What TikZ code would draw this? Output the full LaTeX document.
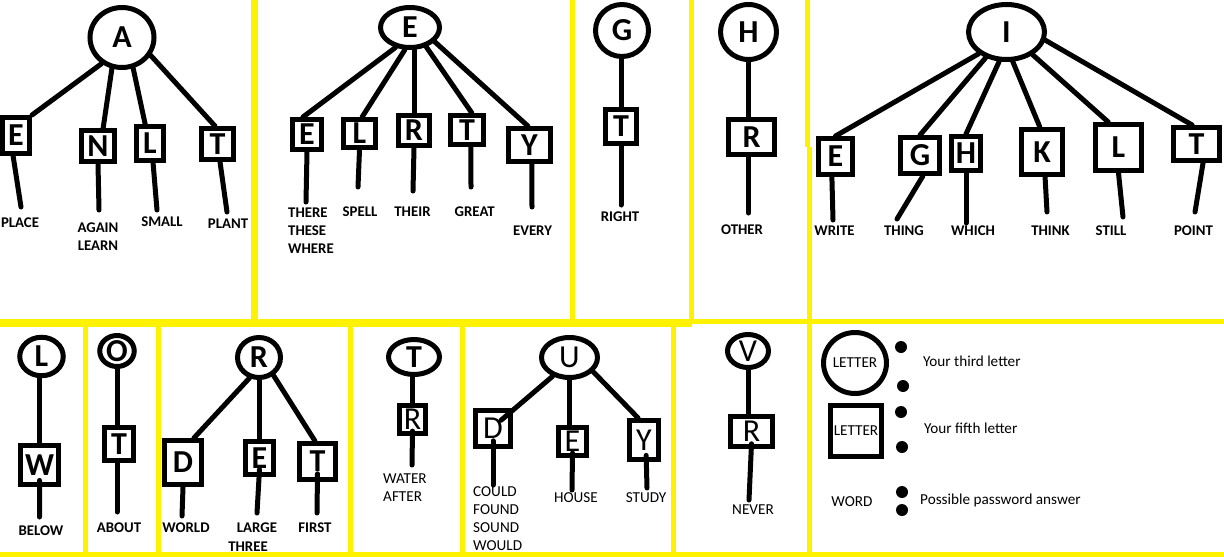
\documentclass[tikz,border=0pt]{standalone}
\usepackage{fontspec}
\setmainfont{Carlito}
\usetikzlibrary{shapes.geometric,calc}
\definecolor{ylw}{HTML}{FFF200}
\newcommand\fntBigB{\fontsize{32}{38}\selectfont\bfseries}
\newcommand\fntBigR{\fontsize{32}{38}\selectfont}
\newcommand\fntLabB{\fontsize{14.8}{18}\selectfont\bfseries}
\newcommand\fntLabR{\fontsize{15.2}{18}\selectfont}
\tikzset{
  sz/.style 2 args={minimum width=#1pt,minimum height=#2pt},
  lt/.style={ellipse,draw,line width=5pt,inner sep=0pt,font=\fntBigB},
  bx/.style={rectangle,draw,line width=5pt,inner sep=0pt,font=\fntBigB},
  conn/.style={line width=5pt,line cap=round},
  lab/.style={inner sep=0pt,font=\fntLabB},
  labr/.style={inner sep=0pt,font=\fntLabR},
  ybar/.style={draw=ylw,line width=5pt},
  dotn/.style={circle,fill,inner sep=0pt,minimum size=12pt}
}
\begin{document}
\begin{tikzpicture}[x=1pt,y=-1pt]
\useasboundingbox (0,0) rectangle (1224,557);
% ---------- yellow frames ----------
\draw[ybar] (253,0) -- (253,321);
\draw[ybar] (255.5,0) -- (255.5,322);
\draw[ybar] (572,0) -- (572,322);
\draw[ybar] (691.5,0) -- (691.5,322);
\draw[ybar] (807,0) -- (807,147);
\draw[ybar] (809,147) -- (809,322);
\draw[ybar] (0,321.5) -- (1224,321.5);
\draw[ybar] (0,324) -- (692,324);
\draw[ybar] (85,322) -- (85,555);
\draw[ybar] (158,322) -- (158,555);
\draw[ybar] (350,322) -- (350,555);
\draw[ybar] (462,322) -- (462,555);
\draw[ybar] (673,322) -- (673,555);
\draw[ybar] (809,322) -- (809,555);
\draw[ybar] (0,554.5) -- (1224,554.5);
% ---------- tree A ----------
\node[lt,sz={64}{60}] (cA) at (122,37.5) {A};
\node[bx,sz={27}{36}] (bAE) at (16,135.5) {E};
\node[bx,sz={33}{31}] (bAN) at (98,146) {N};
\node[bx,sz={27}{34}] (bAL) at (150,143.5) {L};
\node[bx,sz={32}{31}] (bAT) at (217.5,144) {T};
\draw[conn] (cA.232) -- (bAE.north east);
\draw[conn] (cA.252) -- (bAN.74);
\draw[conn] (cA.290) -- (bAL.104);
\draw[conn] (cA.328) -- (bAT.98);
\coordinate (eAE) at (21,207);
\coordinate (eAN) at (99,210);
\coordinate (eAL) at (157,210);
\coordinate (eAT) at (227,212);
\draw[conn] (bAE.262) -- (eAE);
\draw[conn] (bAN.south) -- (eAN);
\draw[conn] (bAL.279) -- (eAL);
\draw[conn] (bAT.278) -- (eAT);
\node[lab] (wA1) at (20,223) {PLACE};
\node[lab,align=center] (wA2) at (98,237) {AGAIN\\LEARN};
\node[lab] (wA3) at (162,222) {SMALL};
\node[lab] (wA4) at (228,224) {PLANT};
% ---------- tree E ----------
\node[lt,sz={59}{40}] (cE) at (410,27.5) {E};
\node[bx,sz={29}{30}] (bEE) at (307,134.5) {E};
\node[bx,sz={32}{28}] (bEL) at (359.5,133.5) {L};
\node[bx,sz={31}{30}] (bER) at (414,130.5) {R};
\node[bx,sz={33}{29}] (bET) at (467,130) {T};
\node[bx,sz={42}{33}] (bEY) at (529.5,145) {Y};
\draw[conn] (cE.234) -- (bEE.103);
\draw[conn] (cE.257) -- (bEL.81);
\draw[conn] (bER.north) -- (bER.north |- cE.south);
\draw[conn] (cE.310) -- (bET.74);
\draw[conn] (cE.330) -- (bEY.95);
\coordinate (eEE) at (306,202);
\coordinate (eEL) at (358,187);
\coordinate (eER) at (413,191);
\coordinate (eET) at (471,187);
\coordinate (eEY) at (532,207);
\draw[conn] (bEE.south) -- (eEE);
\draw[conn] (bEL.south) -- (eEL);
\draw[conn] (bER.south) -- (eER);
\draw[conn] (bET.283) -- (eET);
\draw[conn] (bEY.277) -- (eEY);
\node[lab,align=left,anchor=west] (wE1) at (288,230.5) {THERE\\THESE\\WHERE};
\node[lab] (wE2) at (360,212) {SPELL};
\node[lab] (wE3) at (412.5,212) {THEIR};
\node[lab] (wE4) at (474.7,212) {GREAT};
\node[lab] (wE5) at (532.5,231) {EVERY};
% ---------- tree G ----------
\node[lt,sz={53}{52}] (cG) at (622,30.5) {G};
\node[bx,sz={31}{34}] (bGT) at (621,126.5) {T};
\draw[conn] (bGT.north) -- (bGT.north |- cG.south);
\coordinate (eGT) at (621,205);
\draw[conn] (bGT.south) -- (eGT);
\node[lab] (wG1) at (620,217) {RIGHT};
% ---------- tree H ----------
\node[lt,sz={56}{55}] (cH) at (748.5,32) {H};
\node[bx,sz={46}{35}] (bHR) at (751.5,137) {R};
\draw[conn] (cH.south) -- (cH.south |- bHR.north);
\coordinate (eHR) at (748.5,213);
\draw[conn] (cH.south |- bHR.south) -- (eHR);
\node[lab] (wH1) at (742,230) {OTHER};
% ---------- tree I ----------
\node[lt,sz={76}{55}] (cI) at (1006.5,32) {I};
\node[bx,sz={34}{36}] (bIE) at (835.5,156.5) {E};
\node[bx,sz={39}{36}] (bIG) at (920,155.5) {G};
\node[bx,sz={29}{34}] (bIH) at (966,153.5) {H};
\node[bx,sz={41}{45}] (bIK) at (1042,152) {K};
\node[bx,sz={46}{46}] (bIL) at (1118.5,147.5) {L};
\node[bx,sz={46}{33}] (bIT) at (1196.5,144) {T};
\draw[conn] (cI.218) -- (bIE.north);
\draw[conn] (cI.231) -- (bIG.north);
\draw[conn] (cI.256) -- (bIH.north);
\draw[conn] (cI.282) -- (bIK.95);
\draw[conn] (cI.319) -- (bIL.112);
\draw[conn] (cI.348) -- (bIT.103);
\coordinate (eIE) at (833,220);
\coordinate (eIG) at (897,219);
\coordinate (eIH) at (966,223);
\coordinate (eIK) at (1047,212);
\coordinate (eIL) at (1123,217);
\coordinate (eIT) at (1195,212);
\draw[conn] (bIE.260) -- (eIE);
\draw[conn] (bIG.278) -- (eIG);
\draw[conn] (bIH.south) -- (eIH);
\draw[conn] (bIK.277) -- (eIK);
\draw[conn] (bIL.south) -- (eIL);
\draw[conn] (bIT.289) -- (eIT);
\node[lab] (wI1) at (834.5,231) {WRITE};
\node[lab] (wI2) at (904,231) {THING};
\node[lab] (wI3) at (973,231) {WHICH};
\node[lab] (wI4) at (1050.5,231) {THINK};
\node[lab] (wI5) at (1111,231) {STILL};
\node[lab] (wI6) at (1193.5,231) {POINT};
% ---------- tree L ----------
\node[lt,sz={43.5}{38.5}] (cL) at (41.5,356.5) {L};
\node[bx,sz={38}{39}] (bLW) at (39.5,465) {W};
\draw[conn] (bLW.north) -- (bLW.north |- cL.south);
\coordinate (eLW) at (39.5,517);
\draw[conn] ($(bLW.center)!0.7!(bLW.south)$) -- (eLW);
\node[lab] (wL1) at (41,531) {BELOW};
% ---------- tree O ----------
\node[lt,sz={34.5}{31}] (cO) at (117,351) {O};
\node[bx,sz={29}{33}] (bOT) at (119,444) {T};
\draw[conn] (cO.south) -- (cO.south |- bOT.north);
\coordinate (eOT) at (117,512);
\draw[conn] (cO.south |- bOT.south) -- (eOT);
\node[lab] (wO1) at (119,528) {ABOUT};
% ---------- tree R ----------
\node[lt,sz={43}{40}] (cR) at (259,357.5) {R};
\node[bx,sz={37}{44}] (bRD) at (183,462.5) {D};
\node[bx,sz={28}{33}] (bRE) at (259.5,458) {E};
\node[bx,sz={36}{36}] (bRT) at (317.5,461.5) {T};
\draw[conn] (cR.245) -- (bRD.66);
\draw[conn] (cR.south) -- (cR.south |- bRE.north);
\draw[conn] (cR.309) -- (bRT.97);
\coordinate (eRD) at (182,516);
\coordinate (eRE) at (257,513);
\coordinate (eRT) at (317,513);
\draw[conn] (bRD.south) -- (eRD);
\draw[conn] ($(bRE.center)!0.6!(bRE.south)$) -- (eRE);
\draw[conn] ($(bRT.center)!0.6!(bRT.south)$) -- (eRT);
\node[lab] (wR1) at (186,528) {WORLD};
\node[lab] (wR2) at (257,528) {LARGE};
\node[lab] (wR3) at (248,547) {THREE};
\node[lab] (wR4) at (315,528) {FIRST};
% ---------- tree T ----------
\node[lt,sz={51}{35}] (cT) at (414,357) {T};
\node[bx,sz={26}{28},font=\fntBigR] (bTR) at (412.5,419.5) {R};
\draw[conn] (bTR.north) -- (bTR.north |- cT.south);
\coordinate (eTR) at (412,465);
\draw[conn] ($(bTR.center)!0.7!(bTR.south)$) -- (eTR);
\node[labr,align=left,anchor=west] (wT1) at (383,487.5) {WATER\\AFTER};
% ---------- tree U ----------
\node[lt,sz={56}{40},font=\fntBigR] (cU) at (569.5,357.5) {U};
\node[bx,sz={35}{36},font=\fntBigR] (bUD) at (493,428.5) {D};
\node[bx,sz={28}{28},font=\fntBigR] (bUE) at (572.5,441.5) {E};
\node[bx,sz={29}{39},font=\fntBigR] (bUY) at (644,440) {Y};
\draw[conn] (cU.228) -- ($(bUD.center)!0.4!(bUD.north east)$);
\draw[conn] (cU.south) -- (cU.south |- bUE.north);
\draw[conn] (cU.329) -- (bUY.105);
\coordinate (eUD) at (493,485);
\coordinate (eUE) at (572,490);
\coordinate (eUY) at (647,488);
\draw[conn] ($(bUD.center)!0.6!(bUD.south)$) -- (eUD);
\draw[conn] ($(bUE.center)!0.7!(bUE.south)$) -- (eUE);
\draw[conn] ($(bUY.center)!0.7!(bUY.278)$) -- (eUY);
\node[labr,align=left,anchor=west] (wU1) at (473,519) {COULD\\FOUND\\SOUND\\WOULD};
\node[labr] (wU2) at (576,498) {HOUSE};
\node[labr] (wU3) at (646,498) {STUDY};
% ---------- tree V ----------
\node[lt,sz={41}{33},font=\fntBigR] (cV) at (748,351) {V};
\node[bx,sz={42}{30},font=\fntBigR] (bVR) at (751.5,431.5) {R};
\draw[conn] (cV.south) -- (cV.south |- bVR.north);
\coordinate (eVR) at (749,500);
\draw[conn] ($(bVR.center)!0.7!(bVR.south)$) -- (eVR);
\node[labr] (wV1) at (753,510) {NEVER};
% ---------- legend ----------
\node[lt,sz={61}{61},font=\fntLabR] (gC) at (855,363) {LETTER};
\node[bx,sz={51}{51},font=\fntLabR] (gB) at (856,431) {LETTER};
\node[labr] (gW) at (852,502) {WORD};
\node[dotn] (d1) at (901,347) {};
\node[dotn] (d2) at (903,386) {};
\node[dotn] (d3) at (901,412) {};
\node[dotn] (d4) at (902,447) {};
\node[dotn] (d5) at (902,492) {};
\node[dotn] (d6) at (902,510) {};
\node[labr,anchor=base west] (gT1) at (923,366) {Your third letter};
\node[labr,anchor=base west] (gT2) at (924,433) {Your fifth letter};
\node[labr,anchor=base west] (gT3) at (920,504.5) {Possible password answer};
\end{tikzpicture}
\end{document}
